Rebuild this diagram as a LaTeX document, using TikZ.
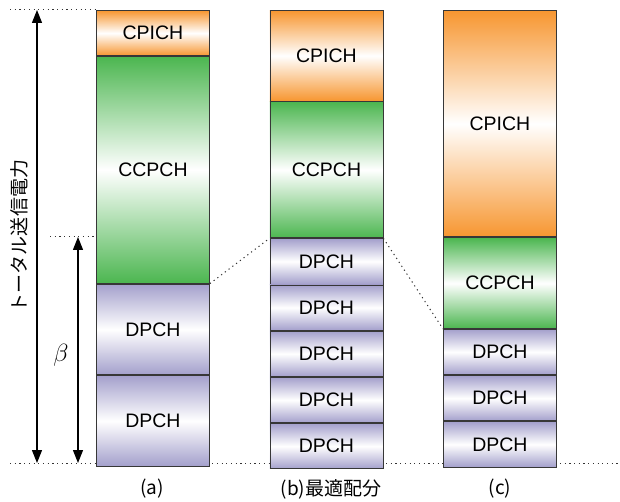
\documentclass[tikz,border=0pt]{standalone}
\usepackage{fontspec}
\setmainfont{Liberation Sans}
\newfontfamily\jp{Noto Sans CJK JP}
\usetikzlibrary{arrows.meta}
\definecolor{orC}{RGB}{247,150,48}
\definecolor{grC}{RGB}{76,182,80}
\definecolor{puC}{RGB}{164,160,204}
\definecolor{edgeC}{RGB}{55,55,55}
\begin{document}
\begin{tikzpicture}[x=1pt,y=-1pt,
  chbox/.style={draw=edgeC, line width=0.9pt, minimum width=113pt, anchor=north west,
    inner sep=0pt, font=\fontsize{19.5}{21}\selectfont},
  cpich/.style={chbox, top color=orC, bottom color=orC, middle color=white},
  ccpch/.style={chbox, top color=grC, bottom color=grC, middle color=white},
  dpch/.style={chbox, top color=puC, bottom color=puC, middle color=white},
  dots/.style={line width=1pt, black!80, dash pattern=on 1.2pt off 3.5pt},
  arr/.style={line width=1.2pt, {Triangle[length=13pt,width=10pt]}-{Triangle[length=13pt,width=10pt]}},
  lab/.style={font=\jp\fontsize{19}{21}\selectfont, inner sep=0pt}]
\useasboundingbox (0,0) rectangle (620,502);
\def\u{45.3}
% guide coordinates
\coordinate (topL) at (10,10);
\coordinate (botL) at (10,463);
\coordinate (botR) at (620,463);
\coordinate (midL) at (50,237);
\coordinate (midR) at (96,237);
\draw[dots] (botL) -- (botR);
% column (a)
\node[cpich, minimum height=\u pt] (a1) at (96,10) {CPICH};
\node[ccpch, minimum height=5*\u pt] (a2) at (a1.south west) {CCPCH};
\node[dpch, minimum height=2*\u pt] (a3) at (a2.south west) {DPCH};
\node[dpch, minimum height=2*\u pt] (a4) at (a3.south west) {DPCH};
% column (b)
\node[cpich, minimum height=2*\u pt] (b1) at (269.5,10) {CPICH};
\node[ccpch, minimum height=3*\u pt] (b2) at (b1.south west) {CCPCH};
\node[dpch, minimum height=\u pt] (b3) at (b2.south west) {DPCH};
\node[dpch, minimum height=\u pt] (b4) at (b3.south west) {DPCH};
\node[dpch, minimum height=\u pt] (b5) at (b4.south west) {DPCH};
\node[dpch, minimum height=\u pt] (b6) at (b5.south west) {DPCH};
\node[dpch, minimum height=\u pt] (b7) at (b6.south west) {DPCH};
% column (c)
\node[cpich, minimum height=5*\u pt] (c1) at (443,10) {CPICH};
\node[ccpch, minimum height=2*\u pt] (c2) at (c1.south west) {CCPCH};
\node[dpch, minimum height=\u pt] (c3) at (c2.south west) {DPCH};
\node[dpch, minimum height=\u pt] (c4) at (c3.south west) {DPCH};
\node[dpch, minimum height=\u pt] (c5) at (c4.south west) {DPCH};
% dotted guides
\draw[dots] (topL) -- (a1.north west);
\draw[dots] (midL) -- (midR);
\draw[dots] (a3.north east) -- (b3.north west);
\draw[dots] (b3.north east) -- (c2.south west);
% arrows
\coordinate (t1) at (37,10);
\coordinate (t2) at (37,463);
\coordinate (s1) at (78,237);
\coordinate (s2) at (78,463);
\draw[arr] (t1) -- (t2);
\draw[arr] (s1) -- (s2);
\node[lab, rotate=90] (tot) at (19,236) {トータル送信電力};
\node[font=\fontsize{24}{26}\selectfont] (beta) at (61,355) {$\beta$};
% labels
\node[lab] (la) at (152,489) {(a)};
\node[lab] (lb) at (331,489) {(b)最適配分};
\node[lab] (lc) at (500,489) {(c)};
\end{tikzpicture}
\end{document}
